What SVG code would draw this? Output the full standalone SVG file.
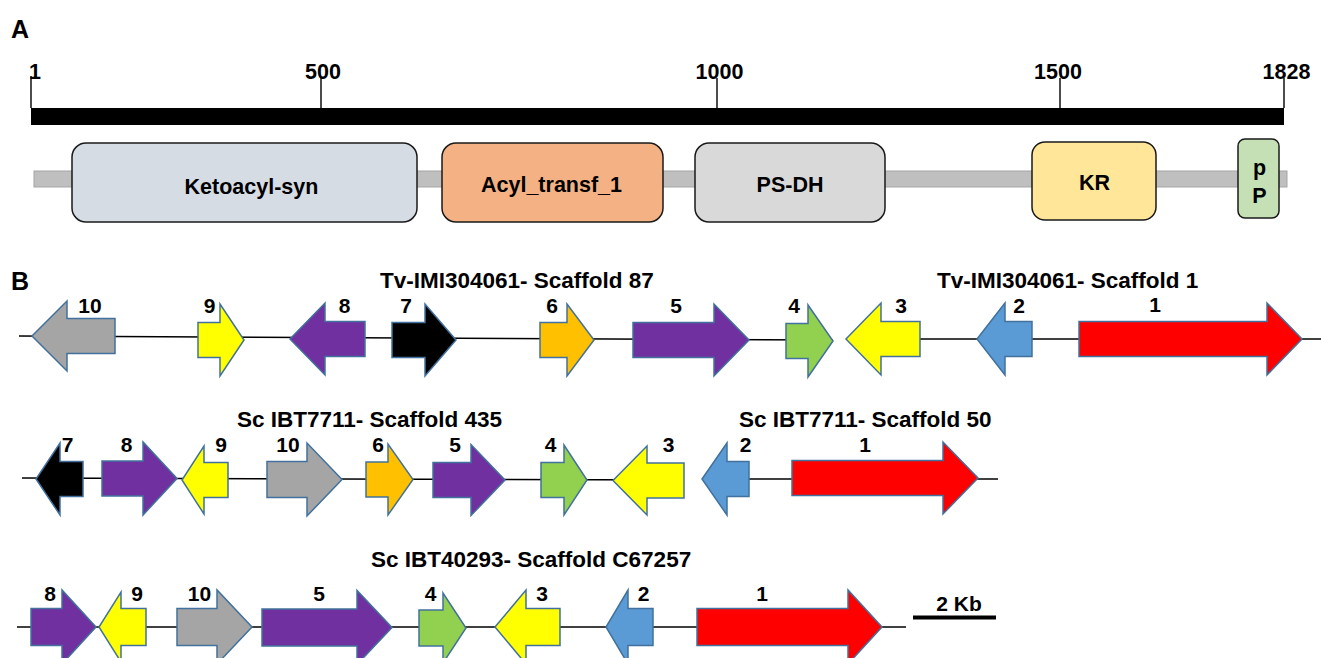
<svg xmlns="http://www.w3.org/2000/svg" width="1321" height="658" viewBox="0 0 1321 658">
<style>
text{font-family:"Liberation Sans",Arial,sans-serif;font-weight:bold;fill:#000}
.panel{font-size:25px}
.tick{font-size:21.5px;text-anchor:middle}
.dom{font-size:21.5px;text-anchor:middle}
.num{font-size:21px;text-anchor:middle}
.title{font-size:22.5px}
.tk{stroke:#000;stroke-width:1.4}
.box{stroke:#1a1a1a;stroke-width:1.5}
.g{stroke:#41719c;stroke-width:1.5;stroke-linejoin:miter}
.bb{stroke:#000;stroke-width:1.5;fill:none}
.gray{fill:#a5a5a5}.yel{fill:#ffff00}.pur{fill:#7030a0}.blk{fill:#000}.org{fill:#ffc000}.grn{fill:#92d050}.blu{fill:#5b9bd5}.red{fill:#ff0000}
</style>

<g id="panelA">
<text class="panel" x="11" y="38">A</text>
<g id="ruler">
<rect x="31" y="108" width="1253" height="17" fill="#000"/>
<line class="tk" x1="31" y1="76" x2="31" y2="108"/>
<line class="tk" x1="321" y1="78" x2="321" y2="108"/>
<line class="tk" x1="717" y1="78" x2="717" y2="108"/>
<line class="tk" x1="1060" y1="78" x2="1060" y2="108"/>
<line class="tk" x1="1284" y1="78" x2="1284" y2="108"/>
<text class="tick" x="35" y="79">1</text>
<text class="tick" x="323" y="79">500</text>
<text class="tick" x="719.5" y="79">1000</text>
<text class="tick" x="1058" y="79">1500</text>
<text class="tick" x="1286.5" y="79">1828</text>
</g>
<rect id="protein" x="34" y="171" width="1253" height="16" fill="#bfbfbf" stroke="#a6a6a6" stroke-width="1"/>
<g id="dom-ks"><rect class="box" x="72" y="143" width="345" height="79" rx="14" fill="#d6dce4"/><text class="dom" x="251.5" y="194">Ketoacyl-syn</text></g>
<g id="dom-at"><rect class="box" x="442" y="143" width="221" height="79" rx="14" fill="#f4b183"/><text class="dom" x="551.5" y="192">Acyl_transf_1</text></g>
<g id="dom-dh"><rect class="box" x="695" y="143" width="190" height="79" rx="14" fill="#d9d9d9"/><text class="dom" x="790" y="192">PS-DH</text></g>
<g id="dom-kr"><rect class="box" x="1032" y="142" width="124" height="78" rx="13" fill="#ffe699"/><text class="dom" x="1094.5" y="190">KR</text></g>
<g id="dom-pp"><rect class="box" x="1238" y="139" width="41" height="79" rx="7" fill="#c5e0b4"/><text class="dom" x="1259.5" y="175">p</text><text class="dom" x="1259.5" y="203">P</text></g>
</g>

<text class="panel" x="11" y="290">B</text>

<g id="connectors">
<polyline class="bb" points="19,336 833,340"/>
<polyline class="bb" points="846,339 1321,339"/>
<polyline class="bb" points="22,478 684,480"/>
<polyline class="bb" points="749,479 998,479"/>
<polyline class="bb" points="17,627 906,627"/>
</g>

<g id="row1">
<text class="title" x="380" y="288">Tv-IMI304061- Scaffold 87</text>
<text class="title" x="937" y="288">Tv-IMI304061- Scaffold 1</text>
<g id="r1g10"><path class="g gray" d="M115,318.5 L67,318.5 L67,301 L32,336 L67,371 L67,353.5 L115,353.5 Z"/><text class="num" x="90" y="313">10</text></g>
<g id="r1g9"><path class="g yel" d="M198,322.5 L220,322.5 L220,304 L244,340 L220,376 L220,357.5 L198,357.5 Z"/><text class="num" x="209.5" y="313">9</text></g>
<g id="r1g8"><path class="g pur" d="M365,321.5 L325,321.5 L325,303 L290,339 L325,375 L325,356.5 L365,356.5 Z"/><text class="num" x="344.5" y="313">8</text></g>
<g id="r1g7"><path class="g blk" d="M392,322.5 L425,322.5 L425,304 L456,340 L425,376 L425,357.5 L392,357.5 Z"/><text class="num" x="406" y="313">7</text></g>
<g id="r1g6"><path class="g org" d="M540,322.5 L567,322.5 L567,304 L594,340 L567,376 L567,357.5 L540,357.5 Z"/><text class="num" x="552" y="313">6</text></g>
<g id="r1g5"><path class="g pur" d="M633,322.5 L714,322.5 L714,304 L749,340 L714,376 L714,357.5 L633,357.5 Z"/><text class="num" x="676" y="313">5</text></g>
<g id="r1g4"><path class="g grn" d="M786,323.5 L808,323.5 L808,305 L833,341 L808,377 L808,358.5 L786,358.5 Z"/><text class="num" x="794" y="313">4</text></g>
<g id="r1g3"><path class="g yel" d="M920,321.5 L881,321.5 L881,303 L846,339 L881,375 L881,356.5 L920,356.5 Z"/><text class="num" x="901" y="313">3</text></g>
<g id="r1g2"><path class="g blu" d="M1032,321.5 L1005,321.5 L1005,303 L977,339 L1005,375 L1005,356.5 L1032,356.5 Z"/><text class="num" x="1019" y="313">2</text></g>
<g id="r1g1"><path class="g red" d="M1079,321.5 L1267,321.5 L1267,303 L1302,339 L1267,375 L1267,356.5 L1079,356.5 Z"/><text class="num" x="1155" y="312">1</text></g>
</g>

<g id="row2">
<text class="title" x="237" y="427">Sc IBT7711- Scaffold 435</text>
<text class="title" x="739" y="427">Sc IBT7711- Scaffold 50</text>
<g id="r2g7"><path class="g blk" d="M83,461.5 L60,461.5 L60,443 L36,479 L60,515 L60,496.5 L83,496.5 Z"/><text class="num" x="67.5" y="452">7</text></g>
<g id="r2g8"><path class="g pur" d="M102,461 L143,461 L143,442 L177,478.5 L143,515 L143,496 L102,496 Z"/><text class="num" x="126.5" y="452">8</text></g>
<g id="r2g9"><path class="g yel" d="M228,462.5 L204,462.5 L204,446 L182,480 L204,514 L204,497.5 L228,497.5 Z"/><text class="num" x="221" y="452">9</text></g>
<g id="r2g10"><path class="g gray" d="M267,461.5 L307,461.5 L307,443 L342,479.5 L307,516 L307,497.5 L267,497.5 Z"/><text class="num" x="288" y="452">10</text></g>
<g id="r2g6"><path class="g org" d="M366,462 L388,462 L388,444 L413,479.5 L388,515 L388,497 L366,497 Z"/><text class="num" x="378" y="452">6</text></g>
<g id="r2g5"><path class="g pur" d="M433,462.5 L471,462.5 L471,444.5 L505,480 L471,515.5 L471,497.5 L433,497.5 Z"/><text class="num" x="455" y="452">5</text></g>
<g id="r2g4"><path class="g grn" d="M541,462.5 L564,462.5 L564,445 L587,480 L564,515 L564,497.5 L541,497.5 Z"/><text class="num" x="550.5" y="452">4</text></g>
<g id="r2g3"><path class="g yel" d="M684,463 L647,463 L647,446 L613,480.5 L647,515 L647,498 L684,498 Z"/><text class="num" x="668.5" y="452">3</text></g>
<g id="r2g2"><path class="g blu" d="M749,461.5 L727,461.5 L727,443 L702,479 L727,515 L727,496.5 L749,496.5 Z"/><text class="num" x="745.5" y="452">2</text></g>
<g id="r2g1"><path class="g red" d="M792,460.5 L943,460.5 L943,442 L978,478 L943,514 L943,495.5 L792,495.5 Z"/><text class="num" x="865" y="452">1</text></g>
</g>

<g id="row3">
<text class="title" x="371" y="567">Sc IBT40293- Scaffold C67257</text>
<g id="r3g8"><path class="g pur" d="M31,608.5 L62,608.5 L62,590 L96,627 L62,664 L62,645.5 L31,645.5 Z"/><text class="num" x="50" y="601">8</text></g>
<g id="r3g9"><path class="g yel" d="M146,608.5 L121,608.5 L121,592 L99,627 L121,662 L121,645.5 L146,645.5 Z"/><text class="num" x="137" y="601">9</text></g>
<g id="r3g10"><path class="g gray" d="M177,608.5 L217,608.5 L217,590 L252,627 L217,664 L217,645.5 L177,645.5 Z"/><text class="num" x="199.5" y="601">10</text></g>
<g id="r3g5"><path class="g pur" d="M262,609 L357,609 L357,590.5 L392,627.5 L357,664.5 L357,646 L262,646 Z"/><text class="num" x="319" y="601">5</text></g>
<g id="r3g4"><path class="g grn" d="M419,610 L443,610 L443,593 L466,628 L443,663 L443,646 L419,646 Z"/><text class="num" x="430.5" y="601">4</text></g>
<g id="r3g3"><path class="g yel" d="M560,608.5 L526,608.5 L526,590 L495,627 L526,664 L526,645.5 L560,645.5 Z"/><text class="num" x="542" y="601">3</text></g>
<g id="r3g2"><path class="g blu" d="M653,608.5 L628,608.5 L628,590 L606,627 L628,664 L628,645.5 L653,645.5 Z"/><text class="num" x="643.5" y="601">2</text></g>
<g id="r3g1"><path class="g red" d="M697,608.5 L848,608.5 L848,590 L882,627 L848,664 L848,645.5 L697,645.5 Z"/><text class="num" x="762" y="601">1</text></g>
</g>

<g id="scalebar">
<rect x="913" y="615.5" width="83" height="4" fill="#000"/>
<text class="num" x="959" y="611">2 Kb</text>
</g>
</svg>
